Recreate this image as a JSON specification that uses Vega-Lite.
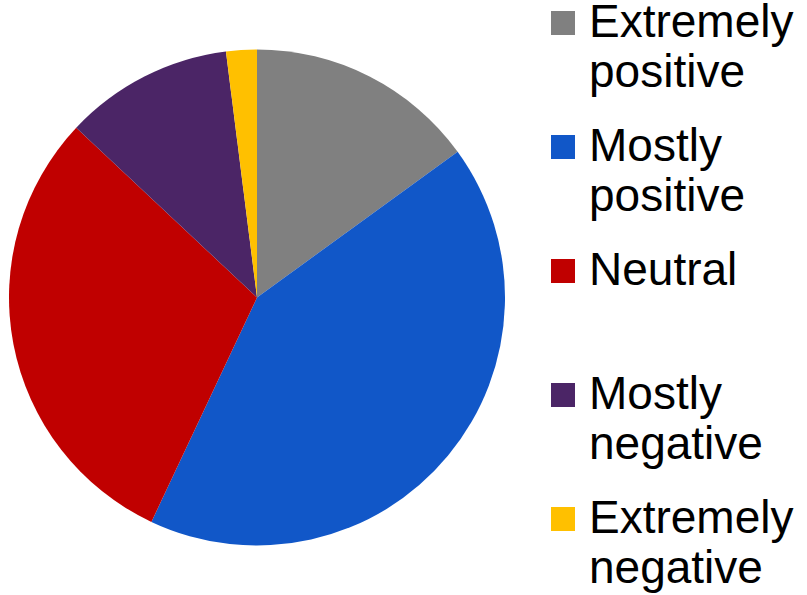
{
  "$schema": "https://vega.github.io/schema/vega-lite/v6.json",
  "width": 514,
  "height": 595,
  "padding": 0,
  "autosize": {"type": "pad"},
  "background": "white",
  "config": {
    "view": {"stroke": null},
    "style": {"guide-label": {"lineHeight": 50}}
  },
  "data": {
    "values": [
      {"category": "Extremely positive", "value": 15, "idx": 1},
      {"category": "Mostly positive", "value": 42, "idx": 2},
      {"category": "Neutral", "value": 30, "idx": 3},
      {"category": "Mostly negative", "value": 11, "idx": 4},
      {"category": "Extremely negative", "value": 2, "idx": 5}
    ]
  },
  "mark": {"type": "arc", "outerRadius": 248},
  "encoding": {
    "theta": {"field": "value", "type": "quantitative", "stack": true},
    "order": {"field": "idx", "type": "quantitative"},
    "color": {
      "field": "category",
      "type": "nominal",
      "scale": {
        "domain": ["Extremely positive", "Mostly positive", "Neutral", "Mostly negative", "Extremely negative"],
        "range": ["#808080", "#1157C8", "#C00000", "#4B2566", "#FFC000"]
      },
      "legend": {
        "title": null,
        "orient": "none",
        "legendX": 540,
        "legendY": 0,
        "padding": 0,
        "symbolType": "square",
        "symbolSize": 576,
        "symbolStrokeWidth": 0,
        "symbolOpacity": 1,
        "labelFont": "Liberation Sans",
        "labelFontSize": 46,
        "labelColor": "black",
        "labelLimit": 400,
        "labelOffset": 3,
        "rowPadding": 28,
        "labelBaseline": "middle",
        "labelExpr": "datum.label == 'Neutral' ? ['Neutral', ' '] : split(datum.label, ' ')"
      }
    }
  }
}
